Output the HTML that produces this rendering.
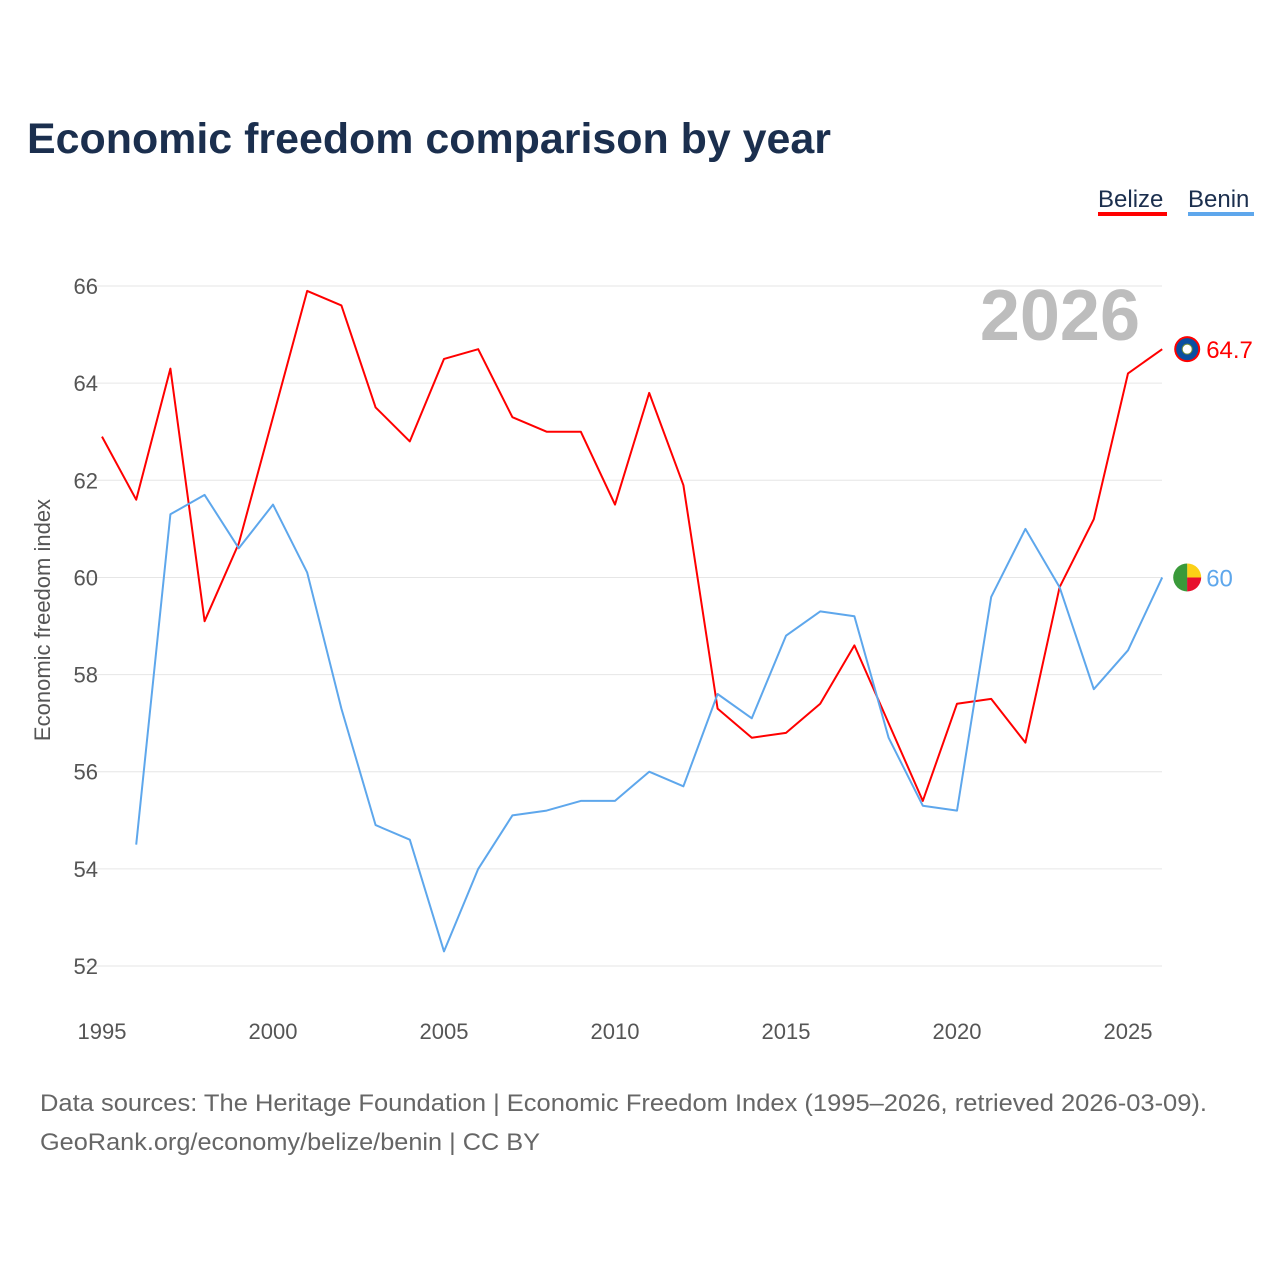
<!DOCTYPE html>
<html><head><meta charset="utf-8">
<style>
body{margin:0;background:#fff;font-family:"Liberation Sans",sans-serif;}
svg text{font-family:"Liberation Sans",sans-serif;}
</style></head>
<body>
<svg id="chart" width="1280" height="1280" viewBox="0 0 1280 1280">
<text x="27" y="153" font-size="43" font-weight="bold" fill="#1b2f4e" textLength="804" lengthAdjust="spacingAndGlyphs">Economic freedom comparison by year</text>
<g>
<text x="1098" y="207" font-size="24" fill="#1b2f4e">Belize</text>
<rect x="1098" y="212" width="69" height="4" fill="#ff0000"/>
<text x="1188" y="207" font-size="24" fill="#1b2f4e">Benin</text>
<rect x="1188" y="212" width="66" height="4" fill="#5ea7ec"/>
</g>
<g id="grid"></g>
<text x="1140" y="340" font-size="72" font-weight="bold" fill="#bdbdbd" text-anchor="end">2026</text>
<text transform="translate(50,620) rotate(-90)" font-size="22" fill="#555" text-anchor="middle">Economic freedom index</text>
<g id="series"></g>
<text x="40" y="1111" font-size="24.5" fill="#666" textLength="1167" lengthAdjust="spacingAndGlyphs">Data sources: The Heritage Foundation | Economic Freedom Index (1995–2026, retrieved 2026-03-09).</text>
<text x="40" y="1150" font-size="24.5" fill="#666" textLength="500" lengthAdjust="spacingAndGlyphs">GeoRank.org/economy/belize/benin | CC BY</text>
</svg>
<script>
const years=[1995,1996,1997,1998,1999,2000,2001,2002,2003,2004,2005,2006,2007,2008,2009,2010,2011,2012,2013,2014,2015,2016,2017,2018,2019,2020,2021,2022,2023,2024,2025,2026];
const belize=[62.9,61.6,64.3,59.1,60.7,63.3,65.9,65.6,63.5,62.8,64.5,64.7,63.3,63.0,63.0,61.5,63.8,61.9,57.3,56.7,56.8,57.4,58.6,57.0,55.4,57.4,57.5,56.6,59.8,61.2,64.2,64.7];
const benin=[null,54.5,61.3,61.7,60.6,61.5,60.1,57.3,54.9,54.6,52.3,54.0,55.1,55.2,55.4,55.4,56.0,55.7,57.6,57.1,58.8,59.3,59.2,56.7,55.3,55.2,59.6,61.0,59.8,57.7,58.5,60.0];
const yTicks=[52,54,56,58,60,62,64,66];
const xTicks=[1995,2000,2005,2010,2015,2020,2025];
const NS="http://www.w3.org/2000/svg";
const x=v=>102+(v-1995)*34.2;
const y=v=>966-(v-52)*48.57;
function mk(t,a,p){const e=document.createElementNS(NS,t);for(const k in a)e.setAttribute(k,a[k]);p.appendChild(e);return e;}
const grid=document.getElementById('grid');
yTicks.forEach(t=>{
 const l=mk('line',{x1:75,x2:1162,y1:y(t),y2:y(t),stroke:'#e6e6e6','stroke-width':1},grid);
 
 
 const tx=mk('text',{x:98,y:y(t)+8,'font-size':22,fill:'#555','text-anchor':'end'},grid);tx.textContent=t;
 
 
});
xTicks.forEach(t=>{
 const tx=mk('text',{x:x(t),y:1039,'font-size':22,fill:'#555','text-anchor':'middle'},grid);tx.textContent=t;
 
 
});
const s=document.getElementById('series');
function line(vals,color,name){
 let d='';vals.forEach((v,i)=>{if(v==null)return;d+=(d?'L':'M')+x(years[i]).toFixed(1)+','+y(v).toFixed(1);});
 const p=mk('path',{d:d,fill:'none',stroke:color,'stroke-width':2,'stroke-linejoin':'round'},s);
 
 
 const last=vals[vals.length-1];
 const cx=x(years[years.length-1])+25, cy=y(last);
 const c=mk('circle',{cx:cx,cy:cy,r:13,fill:color},s);
 
 
 const t=mk('text',{x:cx+19,y:cy+9,'font-size':24,fill:color},s);t.textContent=last;
 
 
 return c;
}
line(belize,'#ff0000','belize');
line(benin,'#5ea7ec','benin');
const bz=mk('circle',{cx:x(2026)+25,cy:y(64.7),r:11,fill:'#0a4fa0'},s);


const bz2=mk('circle',{cx:x(2026)+25,cy:y(64.7),r:5,fill:'#fff',stroke:'#6a8a3a'},s);


const bcx=x(2026)+25,bcy=y(60);
const g1=mk('path',{d:`M${bcx},${bcy-14}A14,14 0 0,0 ${bcx},${bcy+14}Z`,fill:'#3a9a3a'},s);


const g2=mk('path',{d:`M${bcx},${bcy-14}A14,14 0 0,1 ${bcx+14},${bcy}L${bcx},${bcy}Z`,fill:'#fcd116'},s);


const g3=mk('path',{d:`M${bcx+14},${bcy}A14,14 0 0,1 ${bcx},${bcy+14}L${bcx},${bcy}Z`,fill:'#e8112d'},s);


</script>
</body></html>
